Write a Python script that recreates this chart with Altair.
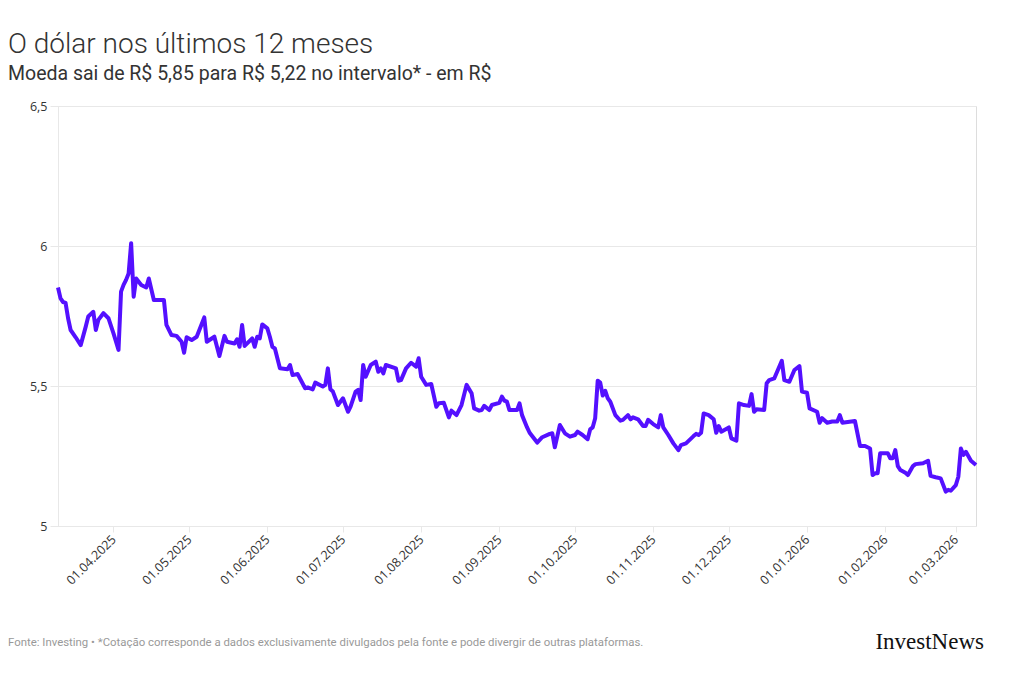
import altair as alt
import pandas as pd

# ---- data ----
START = "2025-03-10"
day_offset = [
    0, 1, 2, 3, 4, 5, 7, 9, 11, 12, 14, 15, 16, 18, 20, 22, 24, 25, 26, 27, 28, 29, 30, 31,
    33, 35, 36, 38, 42, 43, 45, 47, 49, 50, 51, 53, 55, 58, 59, 62, 64, 66, 67, 70, 71, 72,
    73, 74, 75, 77, 78, 79, 80, 81, 83, 84, 85, 86, 88, 91, 92, 93, 95, 98, 99, 101, 102,
    105, 106, 107, 108, 109, 111, 113, 115, 116, 118, 119, 120, 121, 122, 124, 126, 127,
    128, 129, 130, 134, 135, 136, 138, 140, 142, 143, 144, 146, 148, 150, 151, 153, 155,
    156, 158, 160, 162, 164, 165, 167, 168, 169, 171, 172, 175, 176, 177, 178, 179, 182,
    183, 184, 186, 187, 190, 192, 195, 196, 197, 199, 201, 203, 205, 206, 208, 210, 211,
    212, 213, 214, 215, 216, 217, 218, 219, 221, 223, 224, 226, 227, 228, 230, 232, 233,
    234, 236, 238, 239, 240, 242, 244, 246, 247, 249, 252, 253, 254, 255, 256, 258, 260,
    261, 262, 263, 266, 267, 269, 270, 272, 274, 275, 276, 277, 280, 281, 282, 284, 287,
    288, 290, 292, 294, 295, 297, 298, 301, 302, 303, 305, 307, 309, 310, 311, 316, 318,
    320, 322, 323, 324, 325, 326, 329, 330, 331, 332, 333, 334, 336, 337, 339, 340, 343,
    345, 346, 348, 350, 352, 353, 354, 356, 357, 358, 359, 360, 362, 364,
]
usd_brl = [
    5.852, 5.813, 5.800, 5.797, 5.742, 5.700, 5.674, 5.646, 5.712, 5.748, 5.765, 5.700,
    5.736, 5.760, 5.742, 5.688, 5.629, 5.837, 5.861, 5.879, 5.902, 6.010, 5.819, 5.884,
    5.861, 5.852, 5.884, 5.807, 5.807, 5.718, 5.682, 5.679, 5.658, 5.619, 5.674, 5.664,
    5.676, 5.745, 5.658, 5.676, 5.607, 5.679, 5.658, 5.652, 5.667, 5.640, 5.718, 5.643,
    5.652, 5.670, 5.640, 5.676, 5.670, 5.720, 5.706, 5.676, 5.640, 5.634, 5.563, 5.560,
    5.575, 5.539, 5.543, 5.492, 5.495, 5.488, 5.512, 5.498, 5.504, 5.563, 5.488, 5.480,
    5.432, 5.456, 5.408, 5.426, 5.480, 5.486, 5.450, 5.575, 5.533, 5.575, 5.587, 5.551,
    5.563, 5.545, 5.575, 5.563, 5.519, 5.521, 5.563, 5.583, 5.569, 5.599, 5.533, 5.504,
    5.507, 5.426, 5.438, 5.440, 5.388, 5.412, 5.396, 5.432, 5.504, 5.474, 5.420, 5.412,
    5.414, 5.429, 5.414, 5.432, 5.440, 5.462, 5.448, 5.444, 5.414, 5.414, 5.438, 5.396,
    5.352, 5.333, 5.298, 5.317, 5.329, 5.331, 5.281, 5.361, 5.331, 5.319, 5.325, 5.337,
    5.325, 5.310, 5.345, 5.352, 5.385, 5.519, 5.512, 5.466, 5.483, 5.456, 5.444, 5.396,
    5.376, 5.379, 5.396, 5.381, 5.388, 5.381, 5.357, 5.357, 5.379, 5.364, 5.352, 5.396,
    5.352, 5.325, 5.295, 5.271, 5.289, 5.295, 5.321, 5.329, 5.325, 5.333, 5.402, 5.396,
    5.381, 5.333, 5.357, 5.337, 5.352, 5.313, 5.305, 5.438, 5.432, 5.429, 5.471, 5.408,
    5.417, 5.414, 5.510, 5.521, 5.527, 5.590, 5.521, 5.515, 5.557, 5.571, 5.480, 5.476,
    5.420, 5.408, 5.369, 5.385, 5.369, 5.373, 5.373, 5.396, 5.369, 5.375, 5.286, 5.286,
    5.277, 5.182, 5.188, 5.188, 5.260, 5.260, 5.242, 5.242, 5.271, 5.214, 5.200, 5.190,
    5.182, 5.214, 5.221, 5.224, 5.233, 5.179, 5.174, 5.170, 5.123, 5.129, 5.126, 5.146,
    5.176, 5.277, 5.254, 5.265, 5.233, 5.218,
]
tick_months = [(2025, m) for m in range(4, 13)] + [(2026, m) for m in range(1, 4)]
y_ticks = [5, 5.5, 6, 6.5]

title_text = "O dólar nos últimos 12 meses"
subtitle_text = "Moeda sai de R$ 5,85 para R$ 5,22 no intervalo* - em R$"
footer_text = ("Fonte: Investing • *Cotação corresponde a dados exclusivamente divulgados "
               "pela fonte e pode divergir de outras plataformas.")
logo_text = "InvestNews"

dates = pd.Timestamp(START) + pd.to_timedelta(day_offset, unit="D")
df = pd.DataFrame({"data": dates.strftime("%Y-%m-%dT00:00:00"), "valor": usd_brl})

GRID = "#e8e8e8"
TXT = "#333333"

line = alt.Chart(df).mark_line(color="#5410ff", strokeWidth=4, strokeJoin="round").encode(
    x=alt.X(
        "data:T",
        title=None,
        scale=alt.Scale(nice=False),
        axis=alt.Axis(
            values=[alt.DateTime(year=y, month=m, date=1) for y, m in tick_months],
            format="%d.%m.%Y",
            labelAngle=-45,
            labelAlign="right",
            labelBaseline="middle",
            labelFont="Open Sans",
            labelFontSize=12.5,
            labelColor=TXT,
            labelPadding=5,
            tickColor=GRID,
            tickSize=6,
            domainColor=GRID,
            grid=False,
        ),
    ),
    y=alt.Y(
        "valor:Q",
        title=None,
        scale=alt.Scale(domain=[5, 6.5], nice=False, zero=False),
        axis=alt.Axis(
            values=y_ticks,
            labelExpr="replace(format(datum.value, '~g'), '.', ',')",
            labelFont="Open Sans",
            labelFontSize=12.5,
            labelColor=TXT,
            labelPadding=3,
            tickColor=GRID,
            tickSize=8,
            domainColor=GRID,
            gridColor=GRID,
        ),
    ),
)

def label(text, x, y, size, color, font, weight="normal", align="left"):
    return alt.Chart(pd.DataFrame({"t": [text]})).mark_text(
        align=align, baseline="alphabetic", fontSize=size, color=color,
        font=font, fontWeight=weight,
    ).encode(x=alt.value(x), y=alt.value(y), text="t:N")

# plot origin is at (58, 106) in the page
title = label(title_text, -50, 53 - 106, 28, TXT, "Roboto", 300)
subtitle = label(subtitle_text, -50, 80 - 106, 19.5, TXT, "Roboto")
footer = label(footer_text, -50, 646 - 106, 11.4, "#999999", "Roboto")
logo = label(logo_text, 984 - 58, 649 - 106, 23, "#111111", "Liberation Serif", align="right")

chart = alt.layer(line, title, subtitle, footer, logo).properties(
    width=918,
    height=420,
    padding={"left": 58, "top": 106, "right": 44, "bottom": 153},
    autosize=alt.AutoSizeParams(type="none"),
).configure_view(strokeWidth=0).configure(background="white")

chart.save("out.html", embed_options={"renderer": "svg", "actions": False})
